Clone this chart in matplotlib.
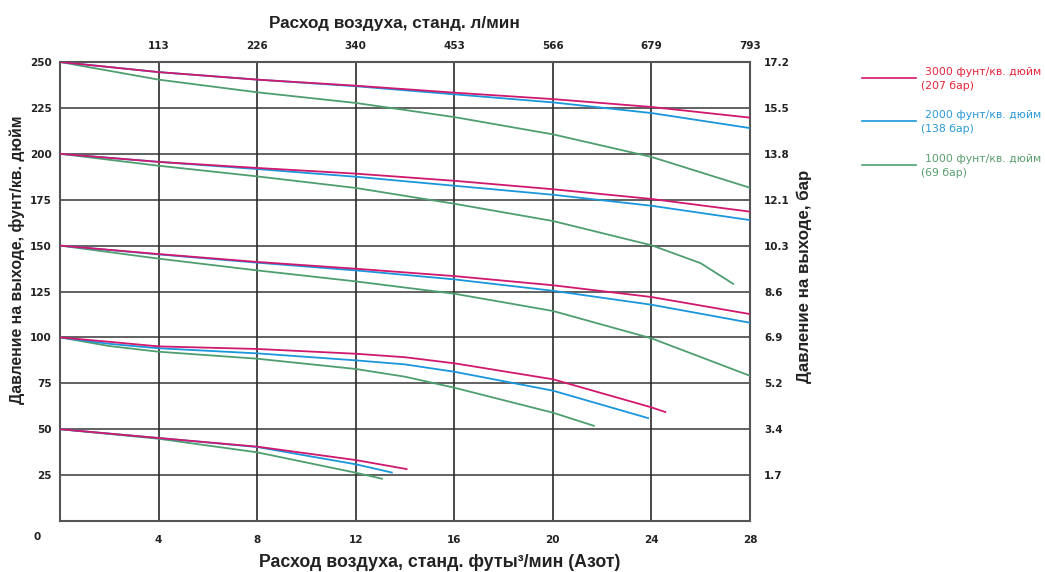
import matplotlib.pyplot as plt

# flow, scfm (nitrogen)
x_std = [0, 4, 8, 12, 16, 20, 24, 28]

# outlet pressure set point 250 psi
p250_3000 = [250, 244.5, 240.4, 237.1, 233.3, 229.8, 225.5, 219.7]
p250_2000 = [250, 244.5, 240.4, 236.8, 232.4, 228.0, 222.2, 214.0]
p250_1000 = [250, 240.4, 233.5, 227.7, 220.0, 210.6, 198.3, 181.5]

# set point 200 psi
p200_3000 = [200, 195.6, 192.3, 189.2, 185.3, 180.7, 175.4, 168.5]
p200_2000 = [200, 195.6, 191.7, 187.5, 182.6, 177.7, 171.7, 163.9]
x200_1000 = [0, 4, 8, 12, 16, 20, 24, 26, 27.35]
p200_1000 = [200, 193.5, 187.7, 181.4, 172.8, 163.4, 150.2, 140.4, 128.9]

# set point 150 psi
p150_3000 = [150, 145.4, 141.1, 137.4, 133.4, 128.4, 122.0, 112.7]
p150_2000 = [150, 145.2, 140.7, 136.5, 131.6, 125.4, 117.8, 108.0]
p150_1000 = [150, 142.9, 136.5, 130.5, 123.8, 114.4, 99.5, 79.1]

# set point 100 psi
x100_3000 = [0, 2, 4, 8, 12, 14, 16, 20, 24, 24.6]
p100_3000 = [100, 97.6, 95.1, 93.7, 91.1, 89.2, 85.9, 77.2, 61.9, 59.2]
x100_2000 = [0, 2, 4, 8, 12, 14, 16, 20, 23.9]
p100_2000 = [100, 96.5, 94.1, 91.3, 87.5, 85.3, 81.3, 71.0, 55.9]
x100_1000 = [0, 2, 4, 8, 12, 14, 16, 20, 21.7]
p100_1000 = [100, 95.3, 92.2, 88.4, 82.8, 78.6, 72.6, 59.0, 51.7]

# set point 50 psi
x50_3000 = [0, 4, 8, 12, 14.1]
p50_3000 = [50, 45.2, 40.5, 33.2, 28.2]
x50_2000 = [0, 4, 8, 12, 13.5]
p50_2000 = [50, 45.2, 40.3, 30.9, 26.3]
x50_1000 = [0, 4, 8, 12, 13.1]
p50_1000 = [50, 44.8, 37.4, 26.3, 22.9]

psi_ticks = [25, 50, 75, 100, 125, 150, 175, 200, 225, 250]
bar_labels = ["1.7", "3.4", "5.2", "6.9", "8.6", "10.3", "12.1", "13.8", "15.5", "17.2"]
scfm_ticks = [4, 8, 12, 16, 20, 24, 28]
lpm_labels = ["113", "226", "340", "453", "566", "679", "793"]

supply_labels = ["3000 фунт/кв. дюйм\n(207 бар)",
                 "2000 фунт/кв. дюйм\n(138 бар)",
                 "1000 фунт/кв. дюйм\n(69 бар)"]
line_colors = ["#d0186e", "#1a96dc", "#4f9e70"]
text_colors = ["#e8253a", "#2a9ad8", "#5a9e6e"]

fig = plt.figure(figsize=(10.45, 5.72), dpi=100)
ax = fig.add_axes([60 / 1045, 51 / 572, 690 / 1045, 459 / 572])

tick_font = dict(fontsize=7.5, fontweight="bold", color="#222222")
grid_c = "#555555"

for y in psi_ticks:
    ax.axhline(y, color=grid_c, lw=1.3, zorder=1)
for x in scfm_ticks:
    ax.axvline(x, color="#2a2a2a", lw=1.2, zorder=1)

red_sets = [(x_std, p250_3000), (x_std, p200_3000), (x_std, p150_3000),
            (x100_3000, p100_3000), (x50_3000, p50_3000)]
blue_sets = [(x_std, p250_2000), (x_std, p200_2000), (x_std, p150_2000),
             (x100_2000, p100_2000), (x50_2000, p50_2000)]
green_sets = [(x_std, p250_1000), (x200_1000, p200_1000), (x_std, p150_1000),
              (x100_1000, p100_1000), (x50_1000, p50_1000)]

for sets, c, z in [(green_sets, line_colors[2], 3), (blue_sets, line_colors[1], 4),
                   (red_sets, line_colors[0], 5)]:
    for xs, ys in sets:
        ax.plot(xs, ys, color=c, lw=1.3, zorder=z, solid_capstyle="butt")

ax.set_xlim(0, 28)
ax.set_ylim(0, 250)
ax.set_xticks(scfm_ticks)
ax.set_xticklabels([str(v) for v in scfm_ticks], **tick_font)
ax.set_yticks(psi_ticks)
ax.set_yticklabels([str(v) for v in psi_ticks], **tick_font)
ax.tick_params(length=0, pad=6)
ax.tick_params(axis="x", pad=10)
ax.text(-0.033, -0.025, "0", transform=ax.transAxes, ha="center", va="top", **tick_font)
for s in ax.spines.values():
    s.set_color("#555555")
    s.set_linewidth(1.5)

ax.set_xlabel("Расход воздуха, станд. футы³/мин (Азот)", fontsize=12.8,
              fontweight="bold", family="Liberation Sans", color="#222222")
ax.xaxis.set_label_coords(0.55, -0.071)
ax.set_ylabel("Давление на выходе, фунт/кв. дюйм", fontsize=11.4,
              fontweight="bold", family="Liberation Sans", color="#222222")
ax.yaxis.set_label_coords(-0.05, 0.569)

ax_r = ax.twinx()
ax_r.set_ylim(0, 250)
ax_r.set_yticks(psi_ticks)
ax_r.set_yticklabels(bar_labels, **tick_font)
ax_r.tick_params(length=0, pad=10)
ax_r.set_ylabel("Давление на выходе, бар", fontsize=12.2, fontweight="bold",
                family="Liberation Sans", color="#222222")
ax_r.yaxis.set_label_coords(1.068, 0.533)
for s in ax_r.spines.values():
    s.set_visible(False)

ax_t = ax.twiny()
ax_t.set_xlim(0, 28)
ax_t.set_xticks(scfm_ticks)
ax_t.set_xticklabels(lpm_labels, **tick_font)
ax_t.tick_params(length=0, pad=8)
ax_t.set_xlabel("Расход воздуха, станд. л/мин", fontsize=12.3, fontweight="bold",
                family="Liberation Sans", color="#222222")
ax_t.xaxis.set_label_coords(0.485, 1.075)
for s in ax_t.spines.values():
    s.set_visible(False)

# legend drawn by hand to the right of the plot
leg_y = [78, 121, 165]
for lab, lc, tc, py in zip(supply_labels, line_colors, text_colors, leg_y):
    yf = 1 - py / 572
    fig.add_artist(plt.Line2D([862 / 1045, 916 / 1045], [yf, yf], color=lc, lw=1.2))
    first, second = lab.split("\n")
    fig.text(925 / 1045, 1 - 72 / 572 - (py - 78) / 572, first, color=tc,
             fontsize=7.8, va="center", ha="left")
    fig.text(921 / 1045, 1 - 86 / 572 - (py - 78) / 572, second, color=tc,
             fontsize=7.8, va="center", ha="left")

fig.savefig("out.png", dpi=100)
